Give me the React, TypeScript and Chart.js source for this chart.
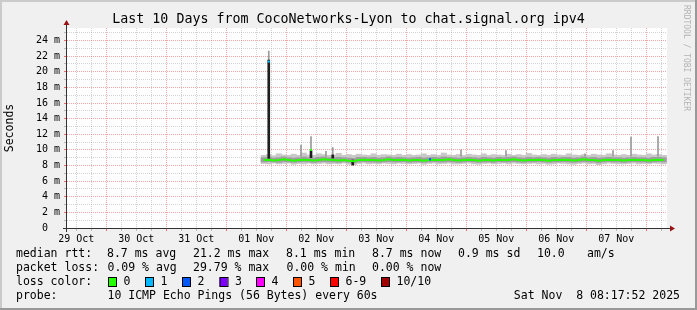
import React, { useEffect, useRef } from "react";
import { Chart, registerables } from "chart.js";

Chart.register(...registerables);

// ---------- text ----------
const titleText = "Last 10 Days from CocoNetworks-Lyon to chat.signal.org ipv4";
const yAxisTitle = "Seconds";
const watermark = "RRDTOOL / TOBI OETIKER";

// ---------- axes (x in hours since 29 Oct 00:00) ----------
const rangeStartHour = 8.298; // Wed Oct 29 08:17:52
const rangeEndHour = 248.298; // Sat Nov 8 08:17:52
const xTickLabels = ["29 Oct", "30 Oct", "31 Oct", "01 Nov", "02 Nov", "03 Nov", "04 Nov", "05 Nov", "06 Nov", "07 Nov"];
const yTickLabels = ["0  ", "2 m", "4 m", "6 m", "8 m", "10 m", "12 m", "14 m", "16 m", "18 m", "20 m", "22 m", "24 m"];
const yMaxMs = 25.6;

// ---------- smoke / median data (ms), 2 h bins starting at hour 87 (01 Nov 15:00) ----------
const binStartHour = 87;
const binStepHours = 2;
const medianRtt = [
  8.7, 8.75, 8.65, 8.7, 8.8, 8.7, 8.6, 8.7, 8.75, 8.7,
  8.65, 8.7, 8.8, 8.75, 8.7, 8.65, 8.7, 8.6, 8.55, 8.7,
  8.75, 8.7, 8.7, 8.65, 8.7, 8.8, 8.7, 8.7, 8.75, 8.65,
  8.7, 8.7, 8.6, 8.7, 8.75, 8.7, 8.7, 8.8, 8.7, 8.65,
  8.7, 8.75, 8.7, 8.6, 8.7, 8.7, 8.65, 8.75, 8.7, 8.7,
  8.8, 8.7, 8.65, 8.7, 8.7, 8.75, 8.7, 8.6, 8.7, 8.7,
  8.75, 8.7, 8.65, 8.7, 8.8, 8.7, 8.7, 8.6, 8.7, 8.75,
  8.7, 8.7, 8.65, 8.7, 8.75, 8.7, 8.7, 8.65, 8.7, 8.75, 8.7,
];
const pingMin = [
  8.25, 8.2, 8.3, 8.2, 8.25, 8.3, 8.15, 8.25, 8.2, 8.3,
  8.2, 8.25, 8.3, 8.2, 8.25, 8.2, 8.3, 8.15, 8.1, 8.25,
  8.3, 8.2, 8.25, 8.2, 8.3, 8.25, 8.2, 8.3, 8.25, 8.2,
  8.25, 8.3, 8.15, 8.25, 8.3, 8.2, 8.25, 8.3, 8.2, 8.2,
  8.25, 8.3, 8.2, 8.15, 8.25, 8.3, 8.2, 8.25, 8.3, 8.2,
  8.3, 8.25, 8.2, 8.25, 8.3, 8.2, 8.25, 8.15, 8.2, 8.3,
  8.25, 8.2, 8.15, 8.25, 8.3, 8.2, 8.25, 8.1, 8.2, 8.3,
  8.25, 8.2, 8.2, 8.25, 8.3, 8.2, 8.25, 8.2, 8.3, 8.25, 8.2,
];
const pingQ1 = [
  8.45, 8.5, 8.45, 8.4, 8.5, 8.45, 8.4, 8.45, 8.5, 8.45,
  8.4, 8.45, 8.5, 8.45, 8.45, 8.4, 8.5, 8.4, 8.35, 8.45,
  8.5, 8.45, 8.45, 8.4, 8.45, 8.5, 8.45, 8.45, 8.5, 8.4,
  8.45, 8.45, 8.4, 8.45, 8.5, 8.45, 8.45, 8.5, 8.45, 8.4,
  8.45, 8.5, 8.45, 8.4, 8.45, 8.45, 8.4, 8.5, 8.45, 8.45,
  8.5, 8.45, 8.4, 8.45, 8.45, 8.5, 8.45, 8.4, 8.45, 8.45,
  8.5, 8.45, 8.4, 8.45, 8.5, 8.45, 8.45, 8.35, 8.45, 8.5,
  8.45, 8.45, 8.4, 8.45, 8.5, 8.45, 8.45, 8.4, 8.45, 8.5, 8.45,
];
const pingQ3 = [
  9.0, 9.05, 8.95, 9.0, 9.1, 9.0, 8.95, 9.0, 9.1, 9.0,
  8.95, 9.05, 9.1, 9.0, 9.0, 9.05, 9.0, 8.95, 8.9, 9.05,
  9.05, 9.0, 9.05, 8.95, 9.0, 9.1, 9.0, 9.05, 9.0, 8.95,
  9.0, 9.05, 8.95, 9.0, 9.05, 9.0, 9.1, 9.05, 9.0, 8.95,
  9.0, 9.05, 9.0, 8.95, 9.05, 9.0, 8.95, 9.05, 9.0, 9.05,
  9.1, 9.0, 8.95, 9.05, 9.0, 9.05, 9.0, 8.95, 9.05, 9.0,
  9.05, 9.05, 8.95, 9.0, 9.1, 9.0, 9.05, 8.95, 9.0, 9.05,
  9.0, 9.0, 8.95, 9.0, 9.05, 9.0, 9.0, 8.95, 9.05, 9.05, 9.0,
];
const pingMax = [
  9.3, 9.4, 9.25, 9.5, 9.35, 9.3, 9.45, 9.3, 9.6, 9.35,
  9.3, 9.5, 9.4, 9.3, 9.35, 9.55, 9.3, 9.4, 9.3, 9.45,
  9.35, 9.3, 9.5, 9.3, 9.4, 9.35, 9.3, 9.45, 9.3, 9.4,
  9.3, 9.35, 9.5, 9.3, 9.4, 9.3, 9.6, 9.35, 9.3, 9.4,
  9.3, 9.45, 9.35, 9.3, 9.5, 9.3, 9.4, 9.35, 9.3, 9.45,
  9.3, 9.4, 9.3, 9.55, 9.35, 9.3, 9.4, 9.3, 9.45, 9.35,
  9.3, 9.5, 9.35, 9.3, 9.4, 9.3, 9.45, 9.35, 9.3, 9.5,
  9.35, 9.3, 9.4, 9.3, 9.45, 9.35, 9.3, 9.5, 9.35, 9.4, 9.3,
];

// short events (hours, ms)
const darkSpikeHours = [89.0, 105.9, 114.6, 122.6];
const darkSpikeLow = [8.9, 9.0, 8.95, 8.05];
const darkSpikeHigh = [21.5, 9.9, 9.35, 8.7];
const greySpikeHours = [89.0, 101.9, 105.9, 111.9, 114.6, 165.9, 183.9, 215.5, 226.7, 233.9, 244.7];
const greySpikeLow = [21.5, 9.2, 9.9, 9.2, 9.35, 9.2, 9.2, 9.2, 9.2, 9.2, 9.2];
const greySpikeHigh = [22.65, 10.6, 11.7, 9.8, 10.3, 10.0, 9.9, 9.5, 9.9, 11.65, 11.7];
const lossPointHours = [89.0, 105.9, 153.5];
const lossPointValues = [21.3, 10.0, 8.8];
const lossPointLoss = [1, 0, 2];

// ---------- legend ----------
const lossColors = ["#26ff00", "#00b8ff", "#0059ff", "#7e00ff", "#ff00ff", "#ff5500", "#ff0000", "#a10000"];
const lossLabels = ["0", "1", "2", "3", "4", "5", "6-9", "10/10"];
const rttStats = ["median rtt:", "8.7 ms avg", "21.2 ms max", "8.1 ms min", "8.7 ms now", "0.9 ms sd", "10.0", "am/s"];
const lossStats = ["packet loss:", "0.09 % avg", "29.79 % max", "0.00 % min", "0.00 % now"];
const probeInfo = ["probe:", "10 ICMP Echo Pings (56 Bytes) every 60s"];
const timestamp = "Sat Nov  8 08:17:52 2025";

const MONO = "'DejaVu Sans Mono', monospace";

const rrdPlugin = {
  id: "rrdFrame",
  beforeDraw(chart: any) {
    const { ctx, chartArea: a, width, height } = chart;
    ctx.save();
    ctx.fillStyle = "#f0f0f0";
    ctx.fillRect(0, 0, width, height);
    ctx.fillStyle = "#cbcbcb";
    ctx.fillRect(0, 0, width, 2);
    ctx.fillRect(0, 0, 2, height);
    ctx.fillStyle = "#999999";
    ctx.fillRect(0, height - 2, width, 2);
    ctx.fillRect(width - 2, 0, 2, height);
    ctx.fillStyle = "#ffffff";
    ctx.fillRect(a.left, a.top, a.right - a.left, a.bottom - a.top);
    ctx.restore();
  },
  afterDraw(chart: any) {
    const { ctx, chartArea: a } = chart;
    ctx.save();
    // axes
    ctx.strokeStyle = "#333333";
    ctx.lineWidth = 1;
    ctx.beginPath();
    ctx.moveTo(a.left - 0.5, a.bottom + 4);
    ctx.lineTo(a.left - 0.5, a.top - 5);
    ctx.moveTo(a.left - 4, a.bottom + 0.5);
    ctx.lineTo(a.right + 4, a.bottom + 0.5);
    ctx.stroke();
    ctx.fillStyle = "#961414";
    ctx.beginPath();
    ctx.moveTo(a.left - 0.5, a.top - 8);
    ctx.lineTo(a.left - 3.5, a.top - 3);
    ctx.lineTo(a.left + 2.5, a.top - 3);
    ctx.closePath();
    ctx.fill();
    ctx.beginPath();
    ctx.moveTo(a.right + 8, a.bottom + 0.5);
    ctx.lineTo(a.right + 3, a.bottom - 2.5);
    ctx.lineTo(a.right + 3, a.bottom + 3.5);
    ctx.closePath();
    ctx.fill();

    // legend
    ctx.fillStyle = "#000000";
    ctx.font = `11.5px ${MONO}`;
    ctx.textBaseline = "middle";
    ctx.textAlign = "left";
    const rttX = [16, 107, 193, 286, 372, 458, 537, 587];
    rttStats.forEach((t, i) => ctx.fillText(t, rttX[i], 254));
    const lossX = [16, 107.5, 193, 286.5, 372];
    lossStats.forEach((t, i) => ctx.fillText(t, lossX[i], 268));
    ctx.fillText("loss color:", 16, 282);
    const boxX = [108, 145, 182, 219.5, 256, 293, 330, 381];
    lossColors.forEach((c, i) => {
      ctx.fillStyle = c;
      ctx.fillRect(boxX[i], 277.5, 8, 9);
      ctx.strokeStyle = "#000000";
      ctx.strokeRect(boxX[i] + 0.5, 277.5, 8, 9);
      ctx.fillStyle = "#000000";
      ctx.fillText(lossLabels[i], boxX[i] + 15.5, 282);
    });
    ctx.fillText(probeInfo[0], 16, 296);
    ctx.fillText(probeInfo[1], 107.5, 296);
    ctx.textAlign = "right";
    ctx.fillText(timestamp, 680, 296);

    // watermark
    ctx.translate(686, 5);
    ctx.rotate(Math.PI / 2);
    ctx.textAlign = "left";
    ctx.textBaseline = "middle";
    ctx.font = `8px ${MONO}`;
    ctx.fillStyle = "#b4b4b4";
    ctx.fillText(watermark, 0, 0);
    ctx.restore();
  },
};

export default function App() {
  const ref = useRef<HTMLCanvasElement>(null);
  useEffect(() => {
    document.body.style.margin = "0";
    const canvas = ref.current!;
    const binHours = medianRtt.map((_, i) => binStartHour + i * binStepHours);
    const xTicks: number[] = [];
    for (let h = Math.ceil(rangeStartHour / 6) * 6; h <= rangeEndHour; h += 6) xTicks.push(h);
    const yTicks: number[] = [];
    for (let v = 0; v <= yMaxMs; v += 1) yTicks.push(v);

    const chart = new Chart(canvas, {
      type: "bar",
      data: {
        datasets: [
          {
            type: "bar",
            label: "smoke range",
            data: binHours.map((h, i) => ({ x: h, y: [pingMin[i], pingMax[i]] })) as any,
            backgroundColor: "#c8c8c8",
            barThickness: 5.4,
            stack: "smoke",
            borderWidth: 0,
            order: 6,
          },
          {
            type: "bar",
            label: "smoke core",
            data: binHours.map((h, i) => ({ x: h, y: [pingQ1[i], pingQ3[i]] })) as any,
            backgroundColor: "#9e9e9e",
            barThickness: 5.4,
            stack: "smoke",
            borderWidth: 0,
            order: 5,
          },
          {
            type: "bar",
            label: "spike range",
            data: greySpikeHours.map((h, i) => ({ x: h, y: [greySpikeLow[i], greySpikeHigh[i]] })) as any,
            backgroundColor: "#9a9a9a",
            barThickness: 1,
            stack: "smoke",
            borderWidth: 0,
            order: 4,
          },
          {
            type: "bar",
            label: "spike core",
            data: darkSpikeHours.map((h, i) => ({ x: h, y: [darkSpikeLow[i], darkSpikeHigh[i]] })) as any,
            backgroundColor: "#1e1e1e",
            barThickness: 2,
            stack: "smoke",
            borderWidth: 0,
            order: 3,
          },
          {
            type: "line",
            label: "median rtt",
            data: binHours.map((h, i) => ({ x: h, y: medianRtt[i] })),
            borderColor: lossColors[0],
            borderWidth: 2,
            pointRadius: 0,
            tension: 0,
            order: 2,
          },
          {
            type: "line",
            label: "loss points",
            data: lossPointHours.map((h, i) => ({ x: h, y: lossPointValues[i] })),
            showLine: false,
            pointStyle: "rect",
            pointRadius: 1.5,
            pointBorderWidth: 0,
            pointBackgroundColor: lossPointLoss.map((l) => lossColors[l]),
            order: 1,
          },
        ],
      },
      options: {
        animation: false,
        responsive: false,
        devicePixelRatio: 1,
        layout: { padding: 0 },
        plugins: {
          legend: { display: false },
          tooltip: { enabled: false },
          title: {
            display: true,
            text: titleText,
            color: "#000000",
            font: { family: MONO, size: 13.3, weight: "normal", lineHeight: 1 },
            padding: { top: 13.35, bottom: 1.35 },
          },
        },
        scales: {
          x: {
            type: "linear",
            min: rangeStartHour,
            max: rangeEndHour,
            offset: false,
            afterBuildTicks: (s: any) => {
              s.ticks = xTicks.map((v) => ({ value: v }));
            },
            afterFit: (s: any) => {
              s.height = 82;
            },
            grid: {
              offset: false,
              color: (c: any) => (c.tick && c.tick.value % 24 === 0 ? "rgba(230,80,80,0.5)" : "rgba(150,150,150,0.42)"),
              tickColor: (c: any) => (c.tick && c.tick.value % 24 === 0 ? "rgba(230,80,80,0.8)" : "rgba(150,150,150,0.6)"),
              tickLength: 3,
              lineWidth: 1,
            },
            border: { display: false, dash: [1, 1] },
            ticks: {
              autoSkip: false,
              maxRotation: 0,
              minRotation: 0,
              padding: 2,
              color: "#000000",
              font: { family: MONO, size: 10 },
              callback: (v: any) => {
                const h = Number(v);
                if (((h % 24) + 24) % 24 !== 12) return "";
                return xTickLabels[(h - 12) / 24] ?? "";
              },
            },
          },
          y: {
            type: "linear",
            min: 0,
            max: yMaxMs,
            stacked: false,
            afterBuildTicks: (s: any) => {
              s.ticks = yTicks.map((v) => ({ value: v }));
            },
            afterFit: (s: any) => {
              s.width = 67;
            },
            grid: {
              color: (c: any) => (c.tick && c.tick.value % 2 === 0 ? "rgba(230,80,80,0.5)" : "rgba(150,150,150,0.42)"),
              tickColor: (c: any) => (c.tick && c.tick.value % 2 === 0 ? "rgba(230,80,80,0.8)" : "rgba(150,150,150,0.6)"),
              tickLength: 3,
              lineWidth: 1,
            },
            border: { display: false, dash: [1, 1] },
            title: {
              display: true,
              text: yAxisTitle,
              color: "#000000",
              font: { family: MONO, size: 11.5 },
              padding: { top: 3, bottom: 0 },
            },
            ticks: {
              autoSkip: false,
              padding: 4,
              color: "#000000",
              font: { family: MONO, size: 10 },
              callback: (v: any) => {
                const n = Number(v);
                return n % 2 === 0 ? yTickLabels[n / 2] ?? "" : "";
              },
            },
          },
          yRight: {
            type: "linear",
            position: "right",
            display: true,
            min: 0,
            max: yMaxMs,
            grid: { display: false, drawTicks: false },
            border: { display: false },
            ticks: { display: false },
            afterFit: (s: any) => {
              s.width = 30;
            },
          },
        },
      } as any,
      plugins: [rrdPlugin],
    });
    return () => chart.destroy();
  }, []);

  return (
    <div style={{ position: "absolute", left: 0, top: 0, width: 697, height: 310 }}>
      <canvas ref={ref} width={697} height={310} style={{ display: "block", width: 697, height: 310 }} />
    </div>
  );
}
